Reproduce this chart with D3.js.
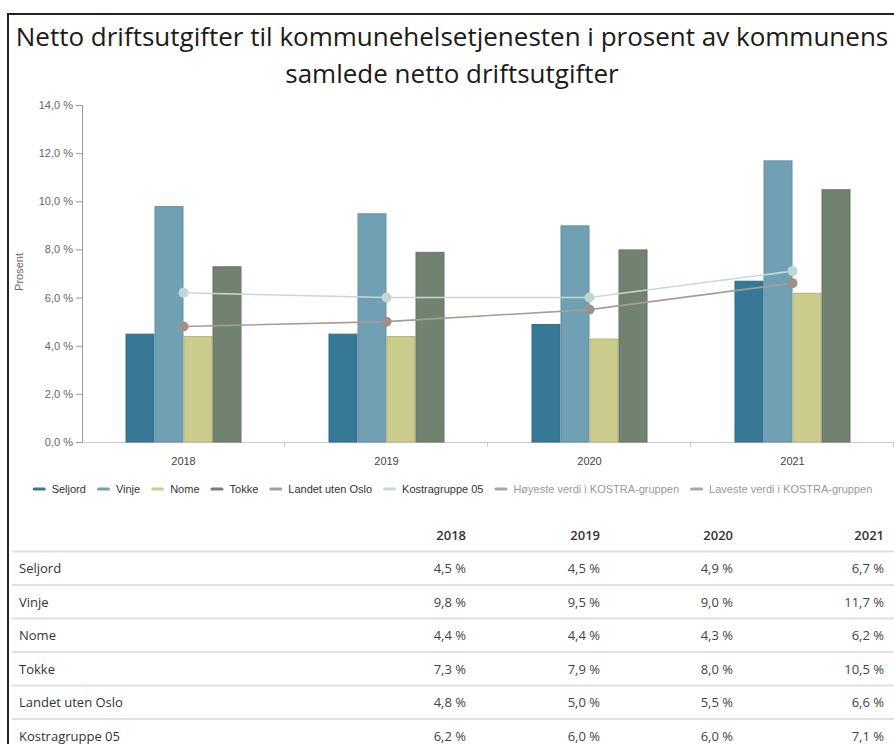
<!DOCTYPE html>
<html>
<head>
<meta charset="UTF-8">
<title>Netto driftsutgifter</title>
<script src="https://d3js.org/d3.v7.min.js"></script>
<style>
  body { margin: 0; background: #fff; }
  svg { display: block; }
</style>
</head>
<body>
<svg id="chart" width="894" height="744"></svg>
<script>
// data
const years = ["2018", "2019", "2020", "2021"];
const barSeries = ["Seljord", "Vinje", "Nome", "Tokke"];
const seljord = [4.5, 4.5, 4.9, 6.7];
const vinje = [9.8, 9.5, 9.0, 11.7];
const nome = [4.4, 4.4, 4.3, 6.2];
const tokke = [7.3, 7.9, 8.0, 10.5];
const landetUtenOslo = [4.8, 5.0, 5.5, 6.6];
const kostragruppe05 = [6.2, 6.0, 6.0, 7.1];
const yTicks = [0, 2, 4, 6, 8, 10, 12, 14];
const legendNames = ["Seljord", "Vinje", "Nome", "Tokke", "Landet uten Oslo", "Kostragruppe 05",
                     "Høyeste verdi i KOSTRA-gruppen", "Laveste verdi i KOSTRA-gruppen"];

const barValues = [seljord, vinje, nome, tokke];
const lineSeries = [
  {name: "Landet uten Oslo", values: landetUtenOslo, line: "#a59d96", dot: "#9d928b"},
  {name: "Kostragruppe 05", values: kostragruppe05, line: "#c6d9d9", dot: "#c3d6d6"}
];
const colors = {
  "Seljord": "#377896", "Vinje": "#70a0b3", "Nome": "#cbcb8c", "Tokke": "#718270",
  "Landet uten Oslo": "#a59d96", "Kostragruppe 05": "#c6d9d9",
  "Høyeste verdi i KOSTRA-gruppen": "#a8a8a8", "Laveste verdi i KOSTRA-gruppen": "#a8a8a8"
};

const svg = d3.select("#chart");
const fmt = v => d3.format(".1f")(v).replace(".", ",") + " %";

// frame
svg.append("path")
  .attr("d", "M8,744 V14 H894")
  .attr("fill", "none").attr("stroke", "#222").attr("stroke-width", 2);

// title
const title = svg.append("g").attr("font-family", "'Open Sans', sans-serif")
  .attr("font-size", 26).attr("fill", "#1a1a1a").attr("text-anchor", "middle");
title.append("text").attr("x", 452).attr("y", 46)
  .text("Netto driftsutgifter til kommunehelsetjenesten i prosent av kommunens");
title.append("text").attr("x", 452).attr("y", 83)
  .text("samlede netto driftsutgifter");

// scales
const plotLeft = 82, plotRight = 894, plotTop = 105, plotBottom = 442;
const x0 = d3.scaleBand().domain(years).range([plotLeft, plotRight]);
const x1 = d3.scaleBand().domain(barSeries).range([0, x0.bandwidth()]).paddingOuter(1.5);
const y = d3.scaleLinear().domain([0, 14]).range([plotBottom, plotTop]);

// y axis
const yAxis = svg.append("g").attr("transform", `translate(${plotLeft},0)`)
  .call(d3.axisLeft(y).tickValues(yTicks).tickSize(6).tickPadding(3)
    .tickFormat(d => d3.format(".1f")(d).replace(".", ",") + " %"));
yAxis.select(".domain").attr("stroke", "#999");
yAxis.selectAll(".tick line").attr("stroke", "#999");
yAxis.selectAll(".tick text").attr("fill", "#666").attr("font-size", 11).attr("font-family", "Arial, sans-serif");

svg.append("text")
  .attr("transform", "translate(23,272) rotate(-90)")
  .attr("text-anchor", "middle").attr("fill", "#666")
  .attr("font-family", "Arial, sans-serif").attr("font-size", 11)
  .text("Prosent");

// x axis
const xAxis = svg.append("g").attr("transform", `translate(0,${plotBottom})`)
  .call(d3.axisBottom(x0).tickSize(0).tickPadding(15).tickSizeOuter(0));
xAxis.select(".domain").attr("stroke", "#ccc");
xAxis.selectAll(".tick text").attr("fill", "#444").attr("font-size", 11).attr("font-family", "Arial, sans-serif");
svg.append("g").selectAll("line").data(years)
  .join("line")
  .attr("x1", d => x0(d) + x0.bandwidth() - 0.5)
  .attr("x2", d => x0(d) + x0.bandwidth() - 0.5)
  .attr("y1", plotBottom).attr("y2", plotBottom + 5)
  .attr("stroke", "#ccc");

// bars
const groups = svg.append("g").selectAll("g").data(years).join("g")
  .attr("transform", d => `translate(${x0(d)},0)`);
groups.selectAll("rect")
  .data((yr, i) => barSeries.map((s, k) => ({s, v: barValues[k][i]})))
  .join("rect")
  .attr("x", d => x1(d.s) + 0.5)
  .attr("y", d => y(d.v) + 0.5)
  .attr("width", x1.bandwidth() - 1)
  .attr("height", d => plotBottom - y(d.v) - 0.5)
  .attr("fill", d => colors[d.s])
  .attr("stroke", d => d3.color(colors[d.s]).darker(0.3))
  .attr("stroke-width", 1);

// lines
const cx = d => x0(d) + x0.bandwidth() / 2;
lineSeries.forEach(ls => {
  const pts = years.map((yr, i) => [cx(yr), y(ls.values[i])]);
  svg.append("path").attr("d", d3.line()(pts))
    .attr("fill", "none").attr("stroke", ls.line).attr("stroke-width", 1.6);
  svg.append("g").selectAll("circle").data(pts).join("circle")
    .attr("cx", d => d[0]).attr("cy", d => d[1]).attr("r", 5)
    .attr("fill", ls.dot);
});

// legend
const legend = svg.append("g").attr("font-family", "Arial, sans-serif").attr("font-size", 11);
let lx = 0;
legendNames.forEach((n, i) => {
  const g = legend.append("g").attr("transform", `translate(${lx},0)`);
  g.append("rect").attr("x", 0).attr("y", -1.5).attr("width", 13).attr("height", 3).attr("rx", 1.5)
    .attr("fill", colors[n]);
  const t = g.append("text").attr("x", 19).attr("y", 4)
    .attr("fill", i >= 6 ? "#999" : "#333").text(n);
  lx += 19 + t.node().getComputedTextLength() + 11;
});
const legendWidth = lx - 11;
legend.attr("transform", `translate(${452.5 - legendWidth / 2},489)`);

// table
const rows = [
  {name: "Seljord", values: seljord},
  {name: "Vinje", values: vinje},
  {name: "Nome", values: nome},
  {name: "Tokke", values: tokke},
  {name: "Landet uten Oslo", values: landetUtenOslo},
  {name: "Kostragruppe 05", values: kostragruppe05}
];
const colRight = [466, 600, 733, 884];
const rowY = i => 535 + i * 33.5;
const table = svg.append("g").attr("font-family", "'Open Sans', sans-serif").attr("font-size", 13);
table.selectAll("text.h").data(years).join("text").attr("class", "h")
  .attr("x", (d, i) => colRight[i]).attr("y", rowY(0) + 4.5)
  .attr("text-anchor", "end").attr("font-weight", 600).attr("fill", "#333").text(d => d);
rows.forEach((r, ri) => {
  const yy = rowY(ri + 1);
  table.append("line").attr("x1", 12).attr("x2", 894)
    .attr("y1", yy - 17).attr("y2", yy - 17)
    .attr("stroke", "#e2e2e2").attr("stroke-width", 2);
  table.append("text").attr("x", 19).attr("y", yy + 4.5).attr("fill", "#333").text(r.name);
  table.selectAll(null).data(r.values).join("text")
    .attr("x", (d, i) => colRight[i]).attr("y", yy + 4.5)
    .attr("text-anchor", "end").attr("fill", "#444").text(d => fmt(d));
});
</script>
</body>
</html>
